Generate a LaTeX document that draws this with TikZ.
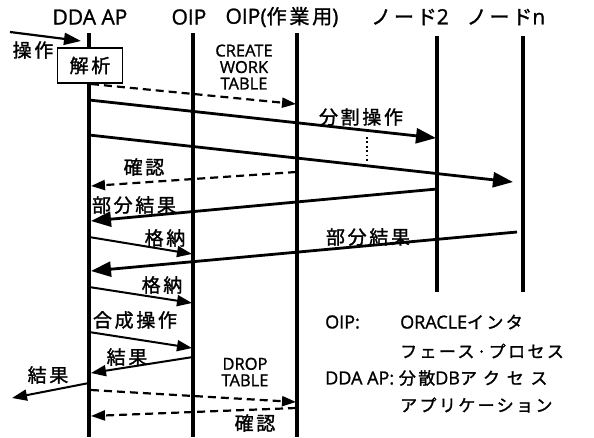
\documentclass[tikz,border=0pt]{standalone}
\usepackage{fontspec}
\setmainfont{Open Sans}[FakeBold=1.2]
\newfontfamily\jp{Noto Sans CJK JP}[LetterSpace=14,FakeBold=1.4]
\newfontfamily\jpw{Noto Sans CJK JP}[LetterSpace=40,FakeBold=1.4]
\usetikzlibrary{arrows.meta}
\tikzset{
  life/.style={line width=3.2pt},
  msg/.style={line width=2.8pt,-{Triangle[length=20pt,width=15pt]}},
  small/.style={line width=2pt,-{Triangle[length=15pt,width=11pt]}},
  ret/.style={line width=2.2pt,dash pattern=on 8pt off 5pt,-{Triangle[length=14pt,width=10pt]}},
  hdr/.style={inner sep=0pt,font=\fontsize{21}{24}\selectfont},
  lbl/.style={inner sep=0pt,font=\fontsize{19}{22}\selectfont\jp},
  captxt/.style={inner sep=0pt,align=center,font=\fontsize{16.5}{16.5}\selectfont},
  leg/.style={inner sep=0pt,anchor=west,font=\fontsize{18}{20}\selectfont},
}
\newcommand{\lj}[1]{{\fontsize{17}{20}\selectfont\jp #1}}
\newcommand{\hj}[1]{{\fontsize{20}{24}\selectfont\jp #1}}
\begin{document}
\begin{tikzpicture}[x=1pt,y=-1pt]
\useasboundingbox[fill=white] (0,0) rectangle (594,437);
% headers
\node[hdr] (hDDA) at (90,17) {DDA AP};
\node[hdr] (hOIP) at (189,17) {OIP};
\node[hdr] (hWRK) at (282,17) {OIP(\hj{作業用})};
\node[hdr] (hN2) at (410,17) {\hj{ノード}2};
\node[hdr] (hNn) at (506,17) {\hj{ノード}n};
% lifelines
\coordinate (dT) at (89,33);  \coordinate (dB) at (89,437);
\coordinate (oT) at (193,33); \coordinate (oB) at (193,437);
\coordinate (wT) at (297,33); \coordinate (wB) at (297,437);
\coordinate (aT) at (437,36); \coordinate (aB) at (437,292);
\coordinate (bT) at (523,36); \coordinate (bB) at (523,292);
\draw[life] (dT) -- (dB);
\draw[life] (oT) -- (oB);
\draw[life] (wT) -- (wB);
\draw[life] (aT) -- (aB);
\draw[life] (bT) -- (bB);
% incoming operation
\coordinate (in0) at (10,32); \coordinate (in1) at (81,41);
\draw[line width=2.2pt,-{Triangle[length=17pt,width=12pt]}] (in0) -- (in1);
\node[lbl] (tSousa) at (33,50) {操作};
\node[draw,line width=1.6pt,fill=white,minimum width=65pt,minimum height=35pt,inner sep=0pt,font=\fontsize{19}{22}\selectfont\jp] (kaiseki) at (90,65.5) {解析};
% create work table
\coordinate (c0) at (91,84); \coordinate (c1) at (296,104);
\draw[ret] (c0) -- (c1);
\node[captxt] (tCreate) at (244,67) {CREATE\\WORK\\TABLE};
% split operations
\coordinate (s0) at (89,100); \coordinate (s1) at (436,138);
\draw[msg] (s0) -- (s1);
\node[lbl] (tBunkatsu) at (361,117) {分割操作};
\coordinate (t0) at (89,135); \coordinate (t1) at (513,182);
\draw[msg] (t0) -- (t1);
\coordinate (dot0) at (367,137); \coordinate (dot1) at (367,163);
\draw[line width=1.8pt,dash pattern=on 1.8pt off 2.6pt] (dot0) -- (dot1);
% confirm
\coordinate (k0) at (296,172); \coordinate (k1) at (91,186);
\draw[ret] (k0) -- (k1);
\node[lbl] (tKakunin) at (144,167) {確認};
% partial result from node2
\coordinate (p0) at (437,189); \coordinate (p1) at (91,221);
\draw[msg] (p0) -- (p1);
\node[lbl] (tBubun1) at (134,205) {部分結果};
% store 1
\coordinate (g0) at (89,237); \coordinate (g1) at (192,254);
\draw[small] (g0) -- (g1);
\node[lbl] (tKakuno1) at (165,238) {格納};
% partial result from node n
\coordinate (q0) at (517,232); \coordinate (q1) at (91,271);
\draw[msg] (q0) -- (q1);
\node[lbl] (tBubun2) at (368,237) {部分結果};
% store 2
\coordinate (h0) at (89,287); \coordinate (h1) at (192,303);
\draw[small] (h0) -- (h1);
\node[lbl] (tKakuno2) at (162,285) {格納};
% merge operation
\coordinate (m0) at (89,332); \coordinate (m1) at (192,348);
\draw[small] (m0) -- (m1);
\node[lbl] (tGousei) at (135,320) {合成操作};
% result
\coordinate (r0) at (193,357); \coordinate (r1) at (91,373);
\draw[small] (r0) -- (r1);
\node[lbl] (tKekka1) at (127,357) {結果};
\coordinate (e0) at (89,383); \coordinate (e1) at (12,398);
\draw[small] (e0) -- (e1);
\node[lbl] (tKekka2) at (48,375) {結果};
% drop table
\node[captxt] (tDrop) at (245,372) {DROP\\TABLE};
\coordinate (x0) at (91,390); \coordinate (x1) at (296,402);
\draw[ret] (x0) -- (x1);
\coordinate (y0) at (296,408); \coordinate (y1) at (91,416);
\draw[ret] (y0) -- (y1);
\node[lbl] (tKakunin2) at (255,423) {確認};
% legend
\node[leg] (l1a) at (325,322) {OIP:};
\node[leg] (l1b) at (400,322) {ORACLE\lj{インタ}};
\node[leg] (l2) at (400,351) {\lj{フェース·プロセス}};
\node[leg] (l3) at (325,378) {DDA AP: \lj{分散}DB{\fontsize{17}{20}\selectfont\jpw アクセス}};
\node[leg] (l4) at (400,405) {\lj{アプリケーション}};
\end{tikzpicture}
\end{document}
